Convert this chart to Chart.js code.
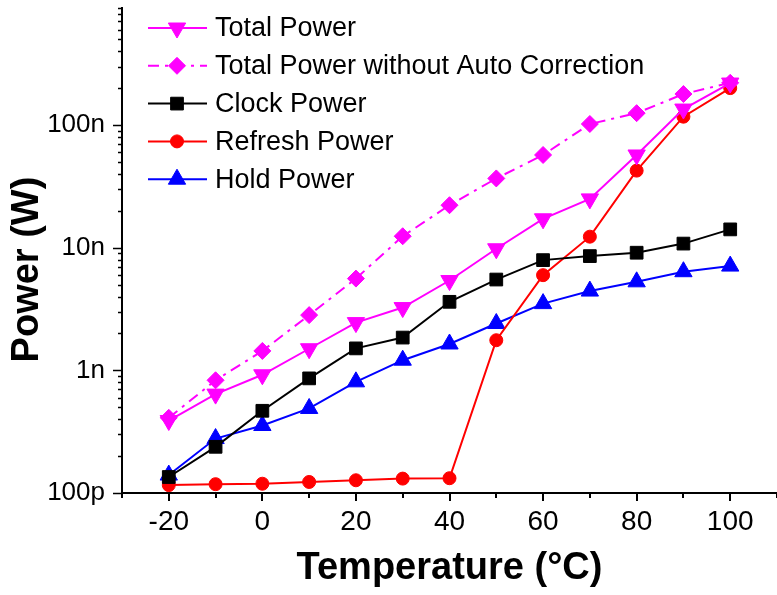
<!DOCTYPE html>
<html>
<head>
<meta charset="utf-8">
<script src="https://cdn.jsdelivr.net/npm/chart.js@4"></script>
<style>
  html, body { margin: 0; padding: 0; background: #fff; }
  #wrap { width: 777px; height: 595px; position: relative; }
</style>
</head>
<body>
<div id="wrap"><canvas id="c" width="777" height="595"></canvas></div>
<script>
// ---- data ----
const temperatures = [-20, -10, 0, 10, 20, 30, 40, 50, 60, 70, 80, 90, 100];
const totalPower = [3.9e-10, 6.4e-10, 9.2e-10, 1.5e-9, 2.45e-9, 3.25e-9, 5.4e-9, 9.8e-9, 1.72e-8, 2.5e-8, 5.7e-8, 1.35e-7, 2.2e-7];
const totalPowerNoAC = [4.1e-10, 8.3e-10, 1.44e-9, 2.82e-9, 5.6e-9, 1.24e-8, 2.22e-8, 3.67e-8, 5.7e-8, 1.02e-7, 1.25e-7, 1.79e-7, 2.21e-7];
const clockPower = [1.35e-10, 2.38e-10, 4.68e-10, 8.6e-10, 1.51e-9, 1.85e-9, 3.62e-9, 5.5e-9, 7.92e-9, 8.54e-9, 9.1e-9, 1.08e-8, 1.41e-8];
const refreshPower = [1.16e-10, 1.18e-10, 1.19e-10, 1.23e-10, 1.27e-10, 1.31e-10, 1.32e-10, 1.76e-9, 5.97e-9, 1.23e-8, 4.25e-8, 1.17e-7, 2.0e-7];
const holdPower = [1.4e-10, 2.78e-10, 3.55e-10, 4.89e-10, 8.06e-10, 1.21e-9, 1.64e-9, 2.41e-9, 3.5e-9, 4.43e-9, 5.27e-9, 6.37e-9, 7.08e-9];
const seriesNames = ['Total Power', 'Total Power without Auto Correction', 'Clock Power', 'Refresh Power', 'Hold Power'];
const xTickLabelValues = [-20, 0, 20, 40, 60, 80, 100];
const yTickValues = [1e-10, 1e-9, 1e-8, 1e-7];
const yTickLabels = ['100p', '1n', '10n', '100n'];
const xTitle = 'Temperature (°C)';
const yTitle = 'Power (W)';

const FONT = "'Liberation Sans', Arial, sans-serif";
const pts = arr => temperatures.map((t, i) => ({ x: t, y: arr[i] }));

function ds(label, data, color, style, radius, extra) {
  return Object.assign({
    label, data: pts(data),
    borderColor: color, backgroundColor: color,
    pointBackgroundColor: color, pointBorderColor: color,
    pointStyle: style, pointRadius: radius, pointHoverRadius: radius,
    pointBorderWidth: 1, borderWidth: 2, tension: 0, fill: false
  }, extra || {});
}

const datasets = [
  ds(seriesNames[0], totalPower, '#FF00FF', 'triangle', 10, { pointRotation: 180 }),
  ds(seriesNames[1], totalPowerNoAC, '#FF00FF', 'rectRot', 8.5, { borderDash: [11, 6, 3, 6] }),
  ds(seriesNames[2], clockPower, '#000000', 'rect', 9),
  ds(seriesNames[3], refreshPower, '#FF0000', 'circle', 6.5),
  ds(seriesNames[4], holdPower, '#0000FF', 'triangle', 10)
];

const isDecade = v => Math.abs(Math.log10(v) - Math.round(Math.log10(v))) < 1e-6;
const zeroPad = s => { s.paddingTop = 0; s.paddingBottom = 0; s.paddingLeft = 0; s.paddingRight = 0; };

// Tick marks (major/minor) drawn along the library's scales
const tickPlugin = {
  id: 'tickMarks',
  afterDraw(chart) {
    const ctx = chart.ctx;
    const xs = chart.scales.x, ys = chart.scales.y;
    ctx.save();
    ctx.strokeStyle = '#000';
    ctx.lineWidth = 2;
    ctx.beginPath();
    xs.ticks.forEach(t => {
      const px = Math.round(xs.getPixelForValue(t.value));
      const len = (t.value % 20 === 0) ? 8 : 5;
      ctx.moveTo(px, xs.top);
      ctx.lineTo(px, xs.top + len);
    });
    ctx.stroke();
    ctx.lineWidth = 1.5;
    ctx.beginPath();
    ys.ticks.forEach(t => {
      const py = Math.round(ys.getPixelForValue(t.value)) + 0.5;
      const len = isDecade(t.value) ? 9 : 4;
      ctx.moveTo(ys.right, py);
      ctx.lineTo(ys.right - len, py);
    });
    ctx.stroke();
    ctx.restore();
  }
};

// Legend drawn in the upper-left of the plot, using the datasets' own styles
const legendPlugin = {
  id: 'innerLegend',
  afterDraw(chart) {
    const ctx = chart.ctx;
    const x0 = 148, x1 = 207, xm = 177, xt = 215, y0 = 28, dy = 37.8;
    ctx.save();
    chart.data.datasets.forEach((d, i) => {
      const y = y0 + i * dy;
      ctx.strokeStyle = d.borderColor;
      ctx.lineWidth = d.borderWidth;
      ctx.setLineDash(d.borderDash || []);
      ctx.beginPath();
      ctx.moveTo(x0, y); ctx.lineTo(x1, y);
      ctx.stroke();
      ctx.setLineDash([]);
      ctx.fillStyle = d.pointBackgroundColor;
      ctx.strokeStyle = d.pointBorderColor;
      ctx.lineWidth = d.pointBorderWidth;
      Chart.helpers.drawPoint(ctx, {
        pointStyle: d.pointStyle, rotation: d.pointRotation || 0,
        radius: d.pointRadius, borderWidth: d.pointBorderWidth
      }, xm, y);
      ctx.fillStyle = '#000';
      ctx.font = '27px ' + FONT;
      ctx.textBaseline = 'middle';
      ctx.textAlign = 'left';
      ctx.fillText(d.label, xt, y + 1);
    });
    ctx.restore();
  }
};

new Chart(document.getElementById('c'), {
  type: 'line',
  data: { datasets },
  plugins: [tickPlugin, legendPlugin],
  options: {
    responsive: false,
    animation: false,
    devicePixelRatio: 1,
    layout: { autoPadding: false, padding: { top: 8, right: 0, left: 0, bottom: 0 } },
    plugins: { legend: { display: false }, tooltip: { enabled: false } },
    scales: {
      x: {
        type: 'linear', min: -30, max: 110,
        afterFit(s) { s.height = 102; zeroPad(s); },
        ticks: {
          stepSize: 10, autoSkip: false, maxRotation: 0, padding: 0,
          color: '#000', font: { family: FONT, size: 28 },
          callback: v => xTickLabelValues.includes(v) ? String(v) : ''
        },
        grid: { display: true, drawOnChartArea: false, drawTicks: true, tickLength: 12, tickColor: 'rgba(0,0,0,0)' },
        border: { display: true, color: '#000', width: 2 },
        title: {
          display: true, text: xTitle, color: '#000',
          font: { family: FONT, size: 38, weight: 'bold' },
          padding: { top: 0, bottom: 4 }
        }
      },
      y: {
        type: 'logarithmic', min: 1e-10, max: 9e-7,
        afterFit(s) { s.width = 122; zeroPad(s); },
        afterBuildTicks(s) {
          const t = [];
          for (let e = -10; e <= -7; e++) {
            for (let m = 1; m <= 9; m++) {
              const v = m * Math.pow(10, e);
              if (v <= s.max * 1.0001) t.push({ value: v });
            }
          }
          s.ticks = t;
        },
        ticks: {
          autoSkip: false, padding: 17,
          color: '#000', font: { family: FONT, size: 26 },
          callback: v => {
            const k = yTickValues.findIndex(tv => Math.abs(Math.log10(tv) - Math.log10(v)) < 1e-6);
            return k >= 0 ? yTickLabels[k] : '';
          }
        },
        grid: { display: true, drawOnChartArea: false, drawTicks: false },
        border: { display: true, color: '#000', width: 2 },
        title: {
          display: true, text: yTitle + '\u2002\u2002', color: '#000',
          font: { family: FONT, size: 38, weight: 'bold' },
          padding: { top: 5, bottom: 0 }
        }
      }
    }
  }
});
</script>
</body>
</html>
